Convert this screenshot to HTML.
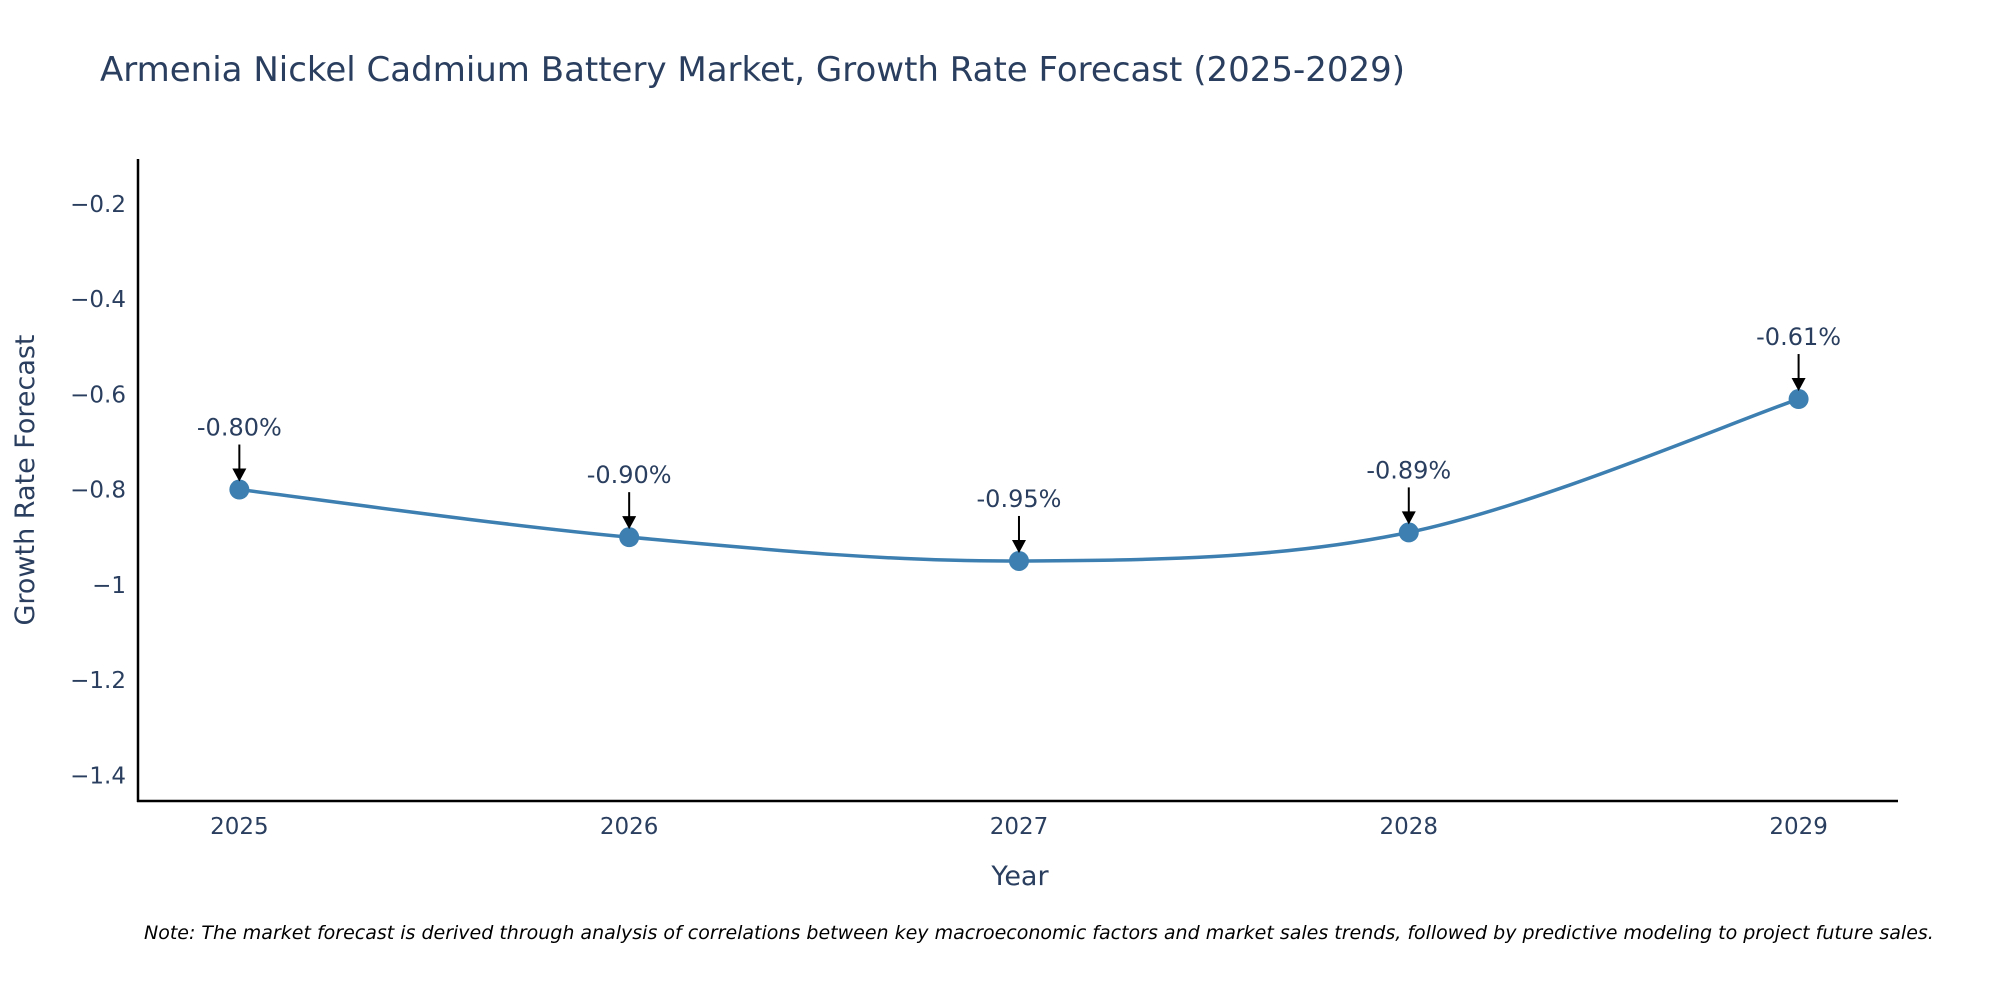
<!DOCTYPE html>
<html><head><meta charset="utf-8"><style>
body{margin:0;background:#fff;}
svg{display:block;font-family:"DejaVu Sans","Liberation Sans",sans-serif;}
</style></head><body>
<svg id="chart" width="2000" height="1000">
<text x="100" y="81" font-size="34" fill="#2a3f5f">Armenia Nickel Cadmium Battery Market, Growth Rate Forecast (2025-2029)</text>
<g id="yticks"></g>
<g id="xticks"></g>
<line x1="138" y1="159" x2="138" y2="802" stroke="#000" stroke-width="2.5"/>
<line x1="137" y1="801" x2="1898" y2="801" stroke="#000" stroke-width="2.5"/>
<text transform="translate(34,480) rotate(-90)" text-anchor="middle" font-size="27" fill="#2a3f5f">Growth Rate Forecast</text>
<text x="1020" y="885" text-anchor="middle" font-size="27" fill="#2a3f5f">Year</text>
<g id="series"></g>
<g id="annots"></g>
<text x="144" y="939" font-size="19" font-style="italic" fill="#000">Note: The market forecast is derived through analysis of correlations between key macroeconomic factors and market sales trends, followed by predictive modeling to project future sales.</text>
</svg>
<script>
const years=[2025,2026,2027,2028,2029];
const values=[-0.80,-0.90,-0.95,-0.89,-0.61];
const valueLabels=["-0.80%","-0.90%","-0.95%","-0.89%","-0.61%"];
const yTickValues=[-0.2,-0.4,-0.6,-0.8,-1,-1.2,-1.4];
const yTickLabels=["\u22120.2","\u22120.4","\u22120.6","\u22120.8","\u22121","\u22121.2","\u22121.4"];

const NS="http://www.w3.org/2000/svg";
const X0=138,X1=1898,Y0=801,Y1=159;
const xMin=2024.74,xMax=2029.255,yMin=-1.454,yMax=-0.106;
const xs=v=>X0+(v-xMin)/(xMax-xMin)*(X1-X0);
const ys=v=>Y0-(v-yMin)/(yMax-yMin)*(Y0-Y1);
function mk(tag,attrs,parent){const e=document.createElementNS(NS,tag);for(const k in attrs)e.setAttribute(k,attrs[k]);parent.appendChild(e);return e;}

const yt=document.getElementById('yticks');
yTickValues.forEach((v,i)=>{
  const t=mk('text',{x:126,y:ys(v)+8,'text-anchor':'end','font-size':23,fill:'#2a3f5f'},yt);
  
  
  t.textContent=yTickLabels[i];
});
const xt=document.getElementById('xticks');
years.forEach(y=>{
  const t=mk('text',{x:xs(y),y:834,'text-anchor':'middle','font-size':23,fill:'#2a3f5f'},xt);
  
  
  t.textContent=String(y);
});

const pts=years.map((y,i)=>[xs(y),ys(values[i])]);
let d='M'+pts[0][0]+','+pts[0][1];
const s=1/6;
for(let i=0;i<pts.length-1;i++){
  const p0=pts[Math.max(0,i-1)],p1=pts[i],p2=pts[i+1],p3=pts[Math.min(pts.length-1,i+2)];
  const c1=[p1[0]+(p2[0]-p0[0])*s,p1[1]+(p2[1]-p0[1])*s];
  const c2=[p2[0]-(p3[0]-p1[0])*s,p2[1]-(p3[1]-p1[1])*s];
  d+=' C'+c1+' '+c2+' '+p2;
}
const sg=document.getElementById('series');
const line=mk('path',{d:d,fill:'none',stroke:'#3d7fb0','stroke-width':3.5},sg);


const an=document.getElementById('annots');
pts.forEach((p,i)=>{
  const c=mk('circle',{cx:p[0],cy:p[1],r:10,fill:'#3d7fb0'},sg);
  
  
  const l=mk('line',{x1:p[0],y1:p[1]-45,x2:p[0],y2:p[1]-20,stroke:'#000','stroke-width':2},an);
  
  
  const h=mk('path',{d:`M${p[0]-7},${p[1]-21} L${p[0]+7},${p[1]-21} L${p[0]},${p[1]-8} Z`,fill:'#000'},an);
  
  
  const t=mk('text',{x:p[0],y:p[1]-54,'text-anchor':'middle','font-size':24,fill:'#2a3f5f'},an);
  
  
  t.textContent=valueLabels[i];
});
</script>
</body></html>
